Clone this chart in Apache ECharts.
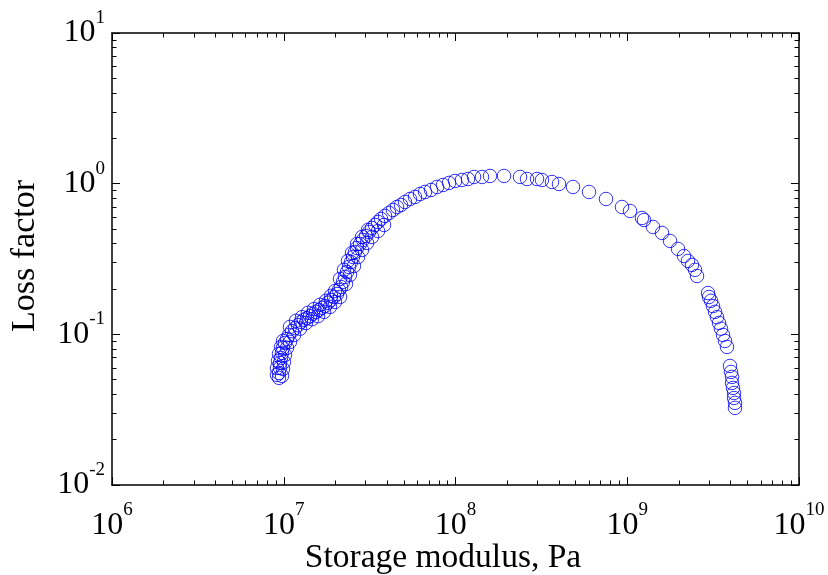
<!DOCTYPE html>
<html><head><meta charset="utf-8">
<script src="https://cdn.jsdelivr.net/npm/echarts@6/dist/echarts.min.js"></script>
<style>html,body{margin:0;padding:0;background:#fff}#c{width:828px;height:575px}</style>
</head><body><div id="c"></div>
<script>
// Storage modulus (Pa) and loss factor, paired point by point
const storageModulus = [
  9.38e6, 9.38e6, 9.51e6, 9.51e6, 9.64e6, 9.77e6, 9.90e6, 1.017e7, 1.044e7, 1.073e7,
  9.13e6, 9.13e6, 9.26e6, 9.38e6, 9.64e6, 9.90e6,
  9.77e6, 9.90e6, 1.003e7, 1.017e7, 1.044e7, 1.087e7,
  1.117e7, 1.163e7, 1.211e7, 1.260e7, 1.312e7, 1.366e7, 1.422e7, 1.480e7, 1.541e7, 1.604e7, 1.670e7, 1.739e7, 1.810e7, 1.884e7, 1.962e7, 2.042e7, 2.097e7,
  1.087e7, 1.179e7, 1.277e7, 1.384e7, 1.500e7, 1.626e7, 1.762e7, 1.884e7, 1.988e7,
  1.148e7, 1.243e7, 1.347e7, 1.460e7, 1.583e7, 1.716e7, 1.859e7, 1.988e7, 2.126e7,
  2.154e7, 2.213e7, 2.273e7, 2.335e7, 2.398e7, 2.464e7, 2.530e7, 2.599e7, 2.670e7, 2.780e7, 2.894e7, 3.013e7, 3.136e7, 3.265e7, 3.399e7, 3.539e7, 3.684e7, 3.887e7, 4.101e7, 4.326e7, 4.564e7, 4.815e7, 5.082e7, 5.434e7, 5.809e7, 6.215e7, 6.645e7, 7.201e7, 7.804e7, 8.457e7, 9.165e7,
  2.304e7, 2.430e7, 2.564e7, 2.706e7, 2.855e7, 3.054e7, 3.265e7, 3.539e7, 3.835e7,
  2.126e7, 2.243e7, 2.366e7, 2.497e7, 2.670e7, 2.855e7, 3.094e7,
  9.933e7, 1.091e8, 1.183e8, 1.282e8, 1.427e8, 1.588e8, 1.916e8, 2.375e8, 2.609e8, 2.983e8, 3.189e8, 3.647e8, 4.005e8, 4.833e8, 5.989e8, 7.521e8, 9.321e8,
  1.038e9, 1.218e9, 1.252e9, 1.412e9, 1.594e9, 1.774e9, 1.975e9, 2.140e9, 2.258e9, 2.382e9, 2.480e9, 2.548e9,
  2.953e9, 2.993e9, 3.074e9, 3.158e9, 3.244e9, 3.332e9, 3.423e9, 3.514e9, 3.610e9, 3.707e9, 3.809e9,
  3.965e9, 4.019e9, 4.074e9, 4.074e9, 4.129e9, 4.184e9, 4.184e9, 4.240e9, 4.240e9
];
const lossFactor = [
  0.0514, 0.0554, 0.0598, 0.0646, 0.0697, 0.0753, 0.0813, 0.0877, 0.0932, 0.0991,
  0.0538, 0.0598, 0.0666, 0.0741, 0.0825, 0.0904,
  0.0530, 0.0589, 0.0656, 0.0730, 0.0813, 0.0891,
  0.105, 0.110, 0.115, 0.121, 0.125, 0.128, 0.132, 0.137, 0.141, 0.145, 0.150, 0.154, 0.162, 0.169, 0.177, 0.185, 0.197,
  0.112, 0.123, 0.130, 0.139, 0.147, 0.157, 0.167, 0.180, 0.194,
  0.0991, 0.109, 0.119, 0.126, 0.132, 0.141, 0.152, 0.164, 0.177,
  0.206, 0.223, 0.240, 0.259, 0.280, 0.302, 0.326, 0.352, 0.374, 0.398, 0.423, 0.450, 0.478, 0.508, 0.532, 0.557, 0.583, 0.611, 0.639, 0.669, 0.700, 0.722, 0.756, 0.791, 0.816, 0.854, 0.881, 0.908, 0.951, 0.980, 1.011,
  0.216, 0.248, 0.284, 0.326, 0.363, 0.404, 0.443, 0.485, 0.532,
  0.233, 0.268, 0.307, 0.347, 0.398, 0.443, 0.493,
  1.042, 1.058, 1.074, 1.108, 1.108, 1.125, 1.125, 1.108, 1.074, 1.074, 1.058, 1.026, 0.995, 0.951, 0.881, 0.791, 0.700,
  0.659, 0.592, 0.574, 0.516, 0.471, 0.417, 0.369, 0.331, 0.307, 0.289, 0.268, 0.244,
  0.188, 0.177, 0.167, 0.154, 0.141, 0.130, 0.119, 0.109, 0.0991, 0.0904, 0.0825,
  0.0617, 0.0563, 0.0522, 0.0476, 0.0441, 0.0408, 0.0378, 0.0351, 0.0325
];
// Axis ranges (decade exponents) and labels
const xDecadeRange = [6, 10];
const yDecadeRange = [-2, 1];
const xTitle = 'Storage modulus, Pa';
const yTitle = 'Loss factor';
const minorMantissas = [2, 3, 4, 5, 6, 7, 8, 9];

// minor tick positions in decade (log10) units, for tick-only helper axes
function minorTicks(range) {
  const out = [];
  for (let d = range[0]; d < range[1]; d++) {
    minorMantissas.forEach(m => out.push(d + Math.log10(m)));
  }
  return out;
}

const FONT = '"Liberation Serif","Times New Roman",serif';
const rich = {
  b: { fontSize: 32, fontFamily: FONT, color: '#000' },
  s: { fontSize: 19, fontFamily: FONT, color: '#000', verticalAlign: 'bottom', padding: [0, 0, 30, 0] }
};
function powLabel(v) {
  const e = Math.round(Math.log10(v));
  return '{b|10}{s|' + e + '}';
}
const axisLine = { show: true, onZero: false, lineStyle: { color: '#000', width: 1.5 } };
const majorTick = { show: true, inside: true, length: 8, lineStyle: { color: '#000', width: 1 } };

const gridRect = { left: 112, right: 29, top: 33, bottom: 90, containLabel: false, outerBoundsMode: 'none' };
const xMinor = minorTicks(xDecadeRange);
const yMinor = minorTicks(yDecadeRange);
const xMin = Math.pow(10, xDecadeRange[0]), xMax = Math.pow(10, xDecadeRange[1]);
const yMin = Math.pow(10, yDecadeRange[0]), yMax = Math.pow(10, yDecadeRange[1]);

// tick-only helper axis (linear in decades) carrying the 2..9 minor ticks of each decade
function minorAxis(grid, pos, range, vals) {
  return { gridIndex: grid, type: 'value', min: range[0], max: range[1], position: pos, z: 10,
    axisLine: { show: true, onZero: false, lineStyle: { color: 'rgba(0,0,0,0)' } },
    axisTick: { show: true, inside: true, length: 4.5, customValues: vals, lineStyle: { color: '#000', width: 1 } },
    splitLine: { show: false },
    axisLabel: { show: true, color: 'rgba(0,0,0,0)', fontSize: 9 } };
}

// invisible mirror of the real data, in decade units, so the helper grid is laid out like a normal one
const mirror = storageModulus.map((e, i) => [Math.log10(e), Math.log10(lossFactor[i])]);

const option = {
  animation: false,
  backgroundColor: '#fff',
  grid: [Object.assign({}, gridRect), Object.assign({}, gridRect)],
  xAxis: [
    { gridIndex: 0, type: 'log', logBase: 10, min: xMin, max: xMax, position: 'bottom',
      axisLine, axisTick: majorTick, splitLine: { show: false },
      axisLabel: { formatter: powLabel, rich, margin: 16 },
      name: xTitle, nameLocation: 'middle', nameGap: 56, nameMoveOverlap: false,
      nameTextStyle: { fontSize: 33.5, fontFamily: FONT, color: '#000', padding: [0, 25, 0, 0] } },
    { gridIndex: 0, type: 'log', logBase: 10, min: xMin, max: xMax, position: 'top',
      axisLine, axisTick: majorTick, splitLine: { show: false }, axisLabel: { show: false } },
    minorAxis(1, 'bottom', xDecadeRange, xMinor),
    minorAxis(1, 'top', xDecadeRange, xMinor)
  ],
  yAxis: [
    { gridIndex: 0, type: 'log', logBase: 10, min: yMin, max: yMax, position: 'left',
      axisLine, axisTick: majorTick, splitLine: { show: false },
      axisLabel: { formatter: powLabel, rich, margin: 7 },
      name: yTitle, nameLocation: 'middle', nameGap: 70, nameRotate: 90,
      nameTextStyle: { fontSize: 34, fontFamily: FONT, color: '#000', padding: [0, 0, 0, 6] } },
    { gridIndex: 0, type: 'log', logBase: 10, min: yMin, max: yMax, position: 'right',
      axisLine, axisTick: majorTick, splitLine: { show: false }, axisLabel: { show: false } },
    minorAxis(1, 'left', yDecadeRange, yMinor),
    minorAxis(1, 'right', yDecadeRange, yMinor)
  ],
  series: [{
    type: 'scatter',
    xAxisIndex: 0, yAxisIndex: 0,
    symbol: 'circle',
    symbolSize: 13.5,
    itemStyle: { color: 'rgba(0,0,0,0)', borderColor: '#0000ff', borderWidth: 1 },
    data: storageModulus.map((e, i) => [e, lossFactor[i]])
  },
  { type: 'scatter', xAxisIndex: 2, yAxisIndex: 2, data: mirror, silent: true,
    symbolSize: 1, itemStyle: { color: 'rgba(0,0,0,0)', opacity: 0 } },
  { type: 'scatter', xAxisIndex: 3, yAxisIndex: 3, data: mirror, silent: true,
    symbolSize: 1, itemStyle: { color: 'rgba(0,0,0,0)', opacity: 0 } }]
};
const chart = echarts.init(document.getElementById('c'), null, { renderer: 'canvas' });
chart.setOption(option);
</script>
</body></html>
